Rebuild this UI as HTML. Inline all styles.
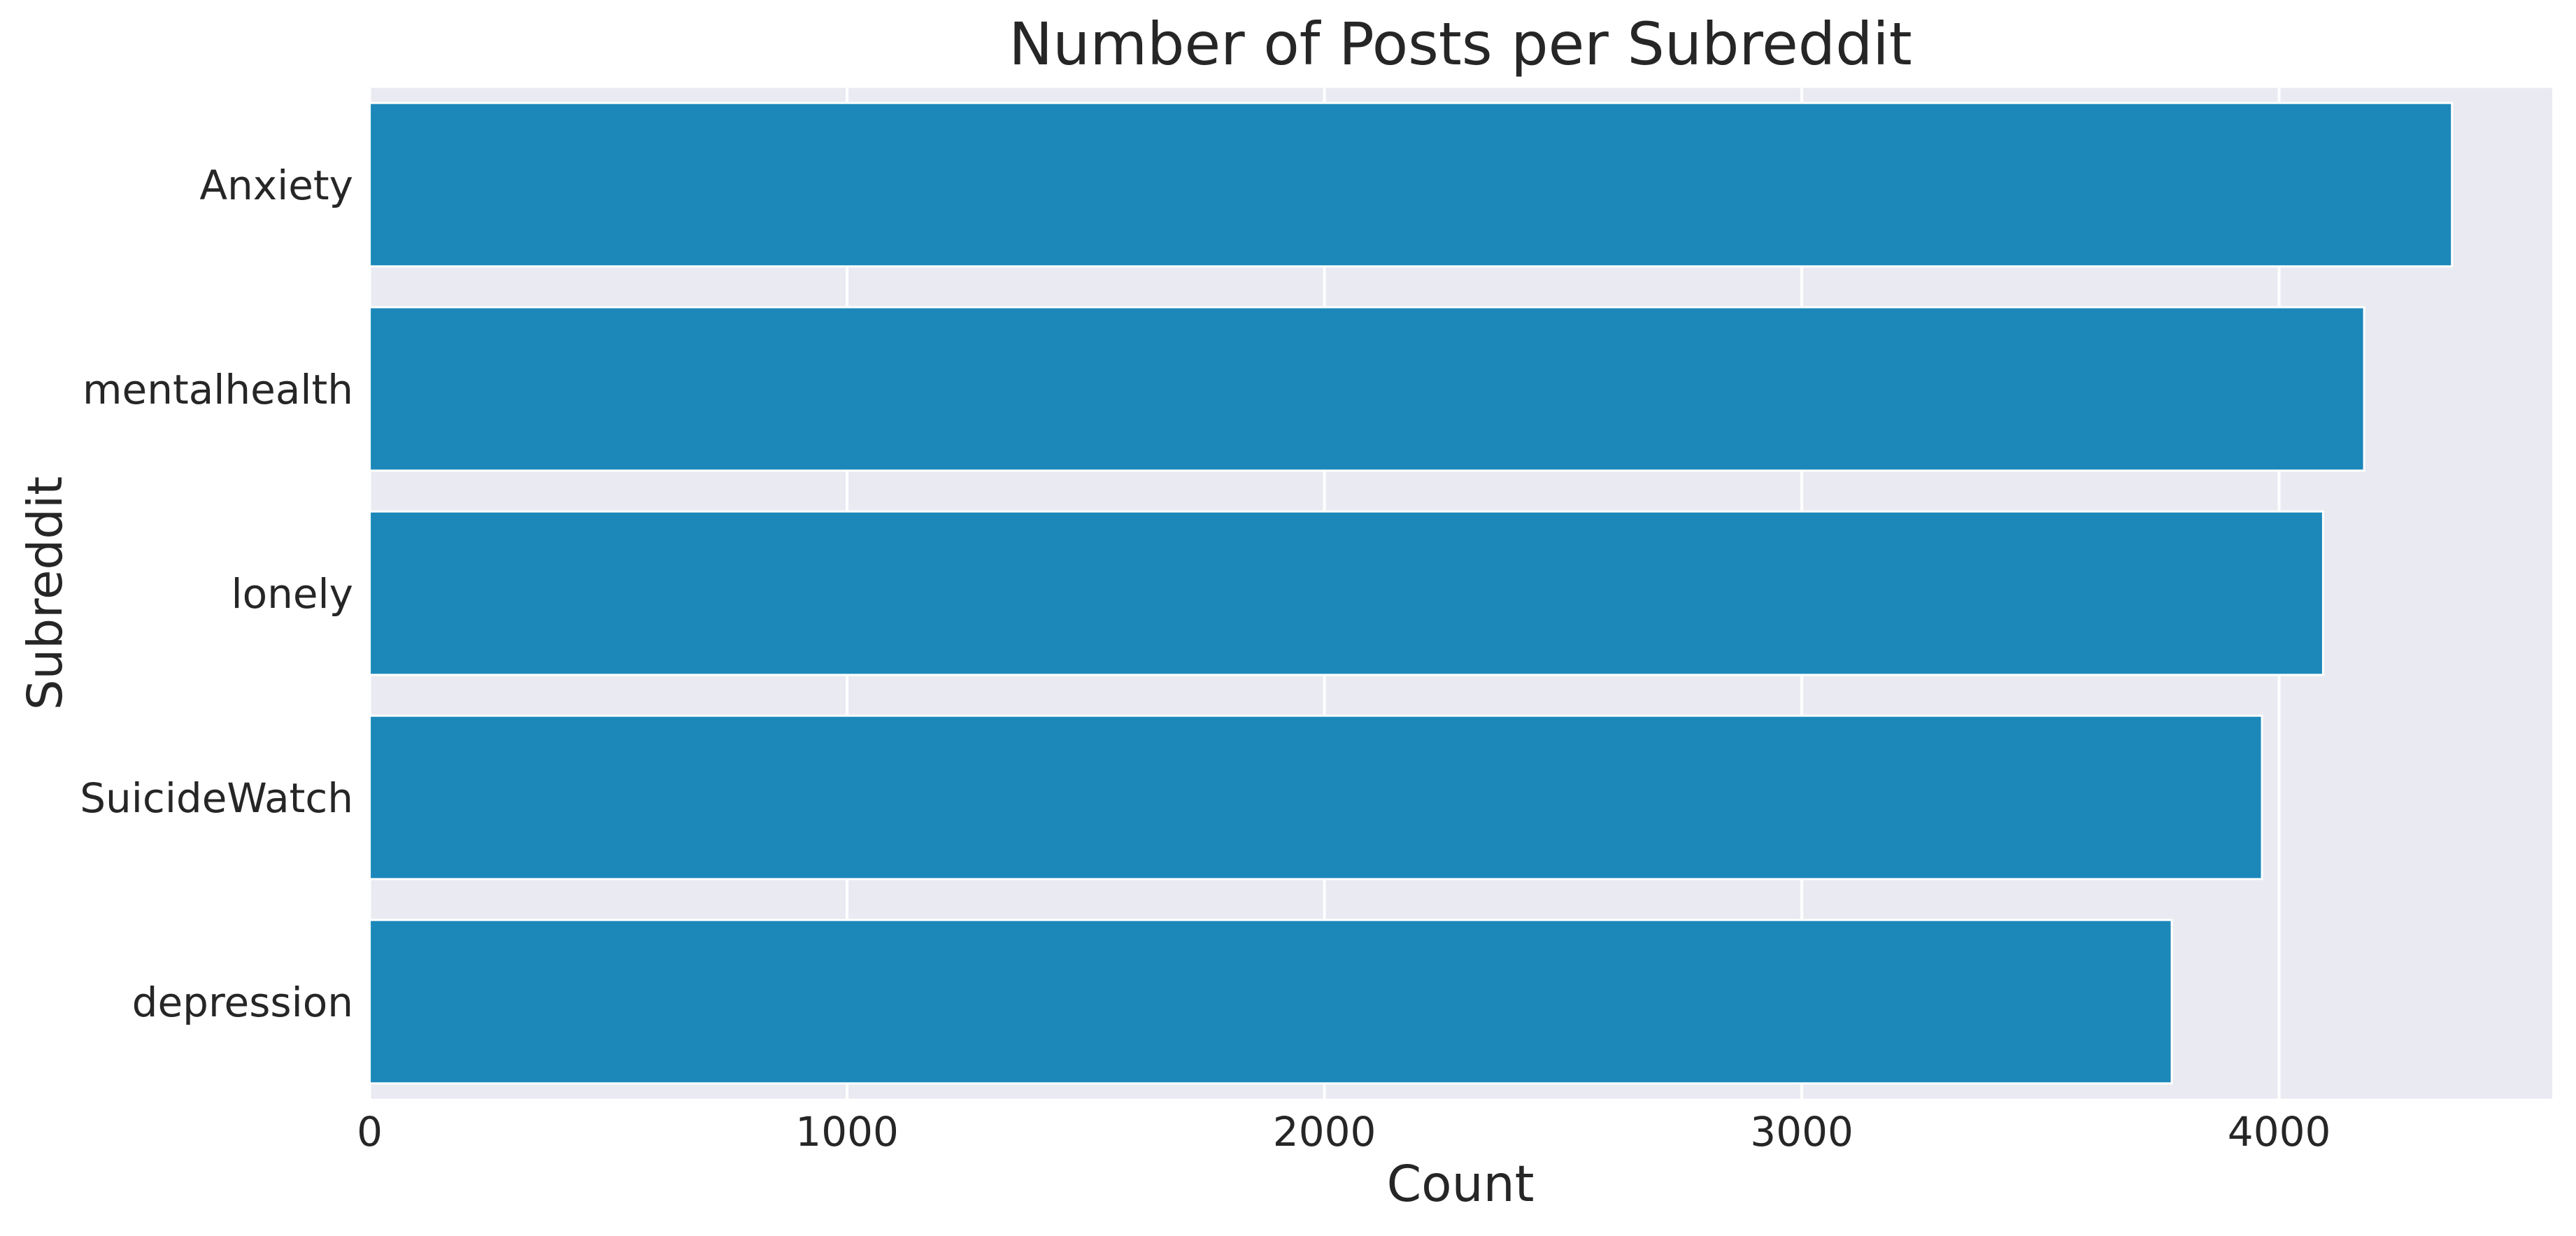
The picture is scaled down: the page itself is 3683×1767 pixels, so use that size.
<!DOCTYPE html>
<html><head><meta charset="utf-8"><style>
html,body{margin:0;padding:0;background:#fff;}
svg text{font-family:"DejaVu Sans","Liberation Sans",sans-serif;fill:#262626;}
</style></head><body>
<svg id="chart" width="3683" height="1762" viewBox="0 0 3683 1762" xmlns="http://www.w3.org/2000/svg">
<rect x="528.6" y="125.7" width="3120.4" height="1445" fill="#eaeaf2"/>
<g id="grid"></g>
<g id="bars"></g>
<g id="xticks"></g>
<g id="yticks"></g>
<text x="2088" y="92" font-size="84" text-anchor="middle">Number of Posts per Subreddit</text>
<text x="2088" y="1717" font-size="71" text-anchor="middle">Count</text>
<text transform="translate(88,848) rotate(-90)" font-size="69" text-anchor="middle">Subreddit</text>
</svg>
<script>
const categories = ["Anxiety","mentalhealth","lonely","SuicideWatch","depression"];
const counts = [4362,4178,4092,3964,3775];
const xTicks = [0,1000,2000,3000,4000];
const xMax = 4572;

const NS="http://www.w3.org/2000/svg";
const left=528.6,right=3649,top0=118,band=292;
function xs(v){return left+(v/xMax)*(right-left);}
function yc(i){return top0+band/2+i*band;}
function mk(tag,attrs,parent){const e=document.createElementNS(NS,tag);for(const k in attrs)e.setAttribute(k,attrs[k]);document.getElementById(parent).appendChild(e);return e;}

xTicks.forEach(t=>{
  const g=mk('line',{x1:xs(t),x2:xs(t),y1:125.7,y2:1570.7,stroke:'#fff','stroke-width':4},'grid');
  
  
  const tx=mk('text',{x:xs(t),y:1638,'font-size':58,'text-anchor':'middle'},'xticks');
  tx.textContent=t;
  
  
});
categories.forEach((c,i)=>{
  const h=band*0.8;
  const r=mk('rect',{x:left,y:yc(i)-h/2,width:xs(counts[i])-left,height:h,fill:'#1c88ba',stroke:'#fff','stroke-width':3},'bars');
  
  
  const t=mk('text',{x:505,y:yc(i)+21,'font-size':58,'text-anchor':'end'},'yticks');
  t.textContent=c;
  
  
});
</script>
</body></html>
